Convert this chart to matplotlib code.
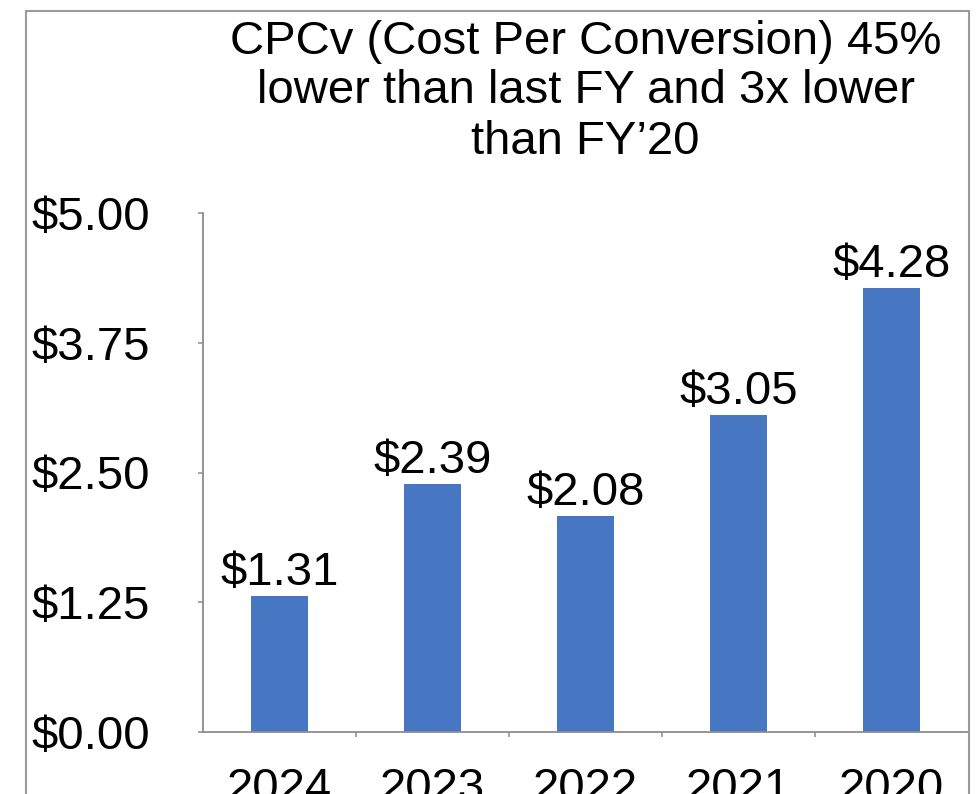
import matplotlib
matplotlib.use("Agg")
import matplotlib.pyplot as plt
from matplotlib.patches import Rectangle
from matplotlib.ticker import FixedLocator

plt.rcParams['font.family'] = ['Liberation Sans', 'DejaVu Sans']

# Data
years = ["2024", "2023", "2022", "2021", "2020"]
cpcv = [1.31, 2.39, 2.08, 3.05, 4.28]
y_ticks = [0.00, 1.25, 2.50, 3.75, 5.00]
title_lines = [
    "CPCv (Cost Per Conversion) 45%",
    "lower than last FY and 3x lower",
    "than FY\u201920",
]

W, H = 980, 794
DPI = 100
fig = plt.figure(figsize=(W / DPI, H / DPI), dpi=DPI)
fig.patch.set_facecolor("white")

FS = 34
BAR = "#4776C3"
AXC = "#8c8c8c"

# axes placement in pixels
x0, x1 = 203, 968
yb, yt = 732, 213
ax = fig.add_axes([x0 / W, 1 - yb / H, (x1 - x0) / W, (yb - yt) / H])
ax.set_facecolor("none")

xs = list(range(len(years)))
ax.bar(xs, cpcv, width=0.37, color=BAR, zorder=2)
ax.set_xlim(-0.5, len(years) - 0.5)
ax.set_ylim(0, 5)

for x, v in zip(xs, cpcv):
    ax.annotate(f"${v:.2f}", xy=(x, v), xytext=(0, 8), textcoords="offset points",
                ha="center", va="baseline", fontsize=FS, color="black")

# y axis
ax.set_yticks(y_ticks)
ax.set_yticklabels([f"${t:.2f}" for t in y_ticks])
ax.tick_params(axis="y", direction="out", length=3.6, width=1.1, color=AXC,
               pad=34.5, labelsize=FS, labelcolor="black")

# x axis: labels at categories, tick marks at boundaries
ax.set_xticks(xs)
ax.set_xticklabels(years)
ax.tick_params(axis="x", which="major", length=0, pad=25, labelsize=FS, labelcolor="black")
ax.xaxis.set_minor_locator(FixedLocator([i + 0.5 for i in xs[:-1]]))
ax.tick_params(axis="x", which="minor", direction="out", length=3.6, width=1.1, color=AXC)

for s in ["top", "right"]:
    ax.spines[s].set_visible(False)
for s in ["left", "bottom"]:
    ax.spines[s].set_color(AXC)
    ax.spines[s].set_linewidth(1.3)

# title, one line at a time
cx = (x0 + x1) / 2 / W
for line, base in zip(title_lines, [54, 103, 154]):
    fig.text(cx, 1 - base / H, line, ha="center", va="baseline", fontsize=FS, color="black")

# outer frame
fig.add_artist(Rectangle((26 / W, -0.02), (969 - 26) / W, 1 - 11 / H + 0.02,
                         transform=fig.transFigure, fill=False, edgecolor="#9a9a9a",
                         linewidth=1.5, clip_on=False))

fig.savefig("out.png", dpi=DPI, facecolor="white")
